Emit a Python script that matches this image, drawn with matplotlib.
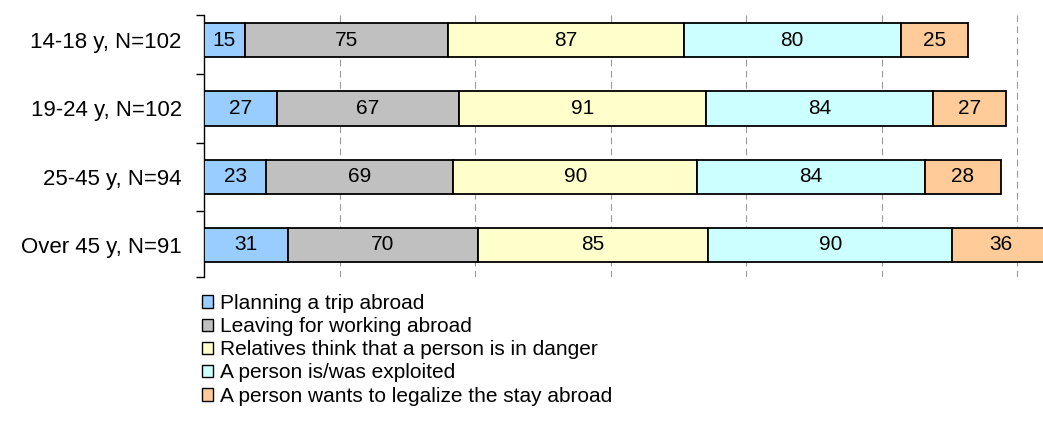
import matplotlib.pyplot as plt
from matplotlib.patches import Patch
import numpy as np

plt.rcParams['font.family'] = ['Liberation Sans', 'DejaVu Sans']

# age groups and answers per reason
groups = ['14-18 y, N=102', '19-24 y, N=102', '25-45 y, N=94', 'Over 45 y, N=91']
reasons = ['Planning a trip abroad',
           'Leaving for working abroad',
           'Relatives think that a person is in danger',
           'A person is/was exploited',
           'A person wants to legalize the stay abroad']
planning = [15, 27, 23, 31]
leaving = [75, 67, 69, 70]
danger = [87, 91, 90, 85]
exploited = [80, 84, 84, 90]
legalize = [25, 27, 28, 36]
colors = ['#99ccff', '#c0c0c0', '#ffffcc', '#ccffff', '#ffcc99']

series = [planning, leaving, danger, exploited, legalize]

fig = plt.figure(figsize=(10.43, 4.37), dpi=100)
ax = fig.add_axes([204 / 1043, 1 - 277 / 437, 1 - 204 / 1043, (277 - 15) / 437])

y = np.arange(len(groups))
left = np.zeros(len(groups))
for vals, col in zip(series, colors):
    bars = ax.barh(y, vals, left=left, height=0.5, color=col,
                   edgecolor='black', linewidth=1.3, zorder=3)
    for b, v in zip(bars, vals):
        ax.text(b.get_x() + b.get_width() / 2, b.get_y() + b.get_height() / 2,
                str(v), ha='center', va='center', fontsize=15, zorder=4)
    left += np.array(vals)

ax.set_xlim(0, 309.5)
ax.set_ylim(3.47, -0.37)
ax.set_xticks(np.arange(50, 301, 50))
ax.tick_params(axis='x', length=0, labelbottom=False)
ax.grid(axis='x', color='#999999', linestyle=(0, (6, 4)), linewidth=0.8, zorder=0)

ax.set_yticks(y)
ax.set_yticklabels(groups, fontsize=16)
ax.set_yticks([-0.37, 0.5, 1.5, 2.5, 3.47], minor=True)
ax.tick_params(axis='y', which='major', length=0, pad=16)
ax.tick_params(axis='y', which='minor', length=6, width=1, direction='out')

for s in ['top', 'right', 'bottom']:
    ax.spines[s].set_visible(False)
ax.spines['left'].set_linewidth(1)

handles = [Patch(facecolor=c, edgecolor='black', linewidth=1) for c in colors]
fig.legend(handles, reasons, loc='upper left', bbox_to_anchor=(202 / 1043, 1 - 294 / 437),
           frameon=False, fontsize=15, handlelength=0.55, handleheight=0.55,
           handletextpad=0.3, labelspacing=0.2, borderpad=0, borderaxespad=0)

fig.savefig('out.png', dpi=100)
